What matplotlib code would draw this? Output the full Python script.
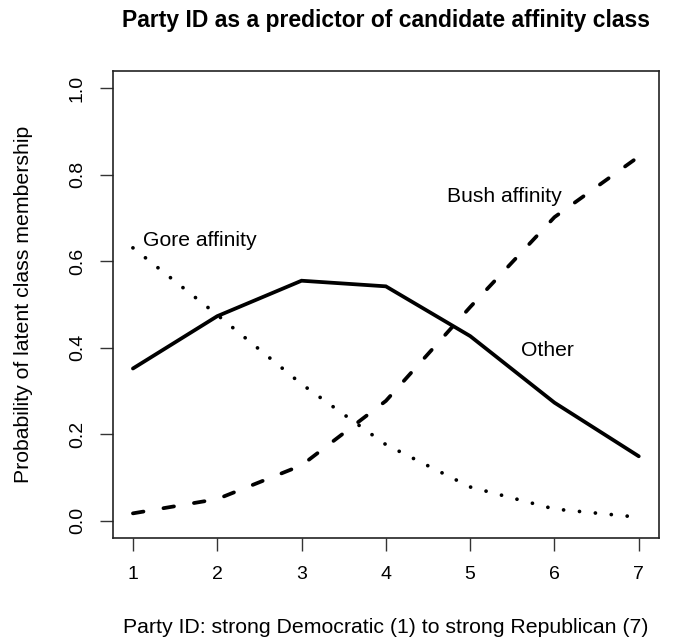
import matplotlib
matplotlib.use("Agg")
import matplotlib.pyplot as plt

plt.rcParams["font.family"] = ["Liberation Sans", "DejaVu Sans"]

# Party ID scale and class membership probabilities
party_id = [1, 2, 3, 4, 5, 6, 7]
other = [0.352, 0.473, 0.555, 0.542, 0.427, 0.273, 0.149]
bush = [0.017, 0.050, 0.128, 0.277, 0.494, 0.702, 0.842]
gore = [0.631, 0.476, 0.316, 0.176, 0.078, 0.027, 0.008]

x_ticks = [1, 2, 3, 4, 5, 6, 7]
y_ticks = [0.0, 0.2, 0.4, 0.6, 0.8, 1.0]
y_tick_labels = ["0.0", "0.2", "0.4", "0.6", "0.8", "1.0"]

W, H = 676, 644
fig = plt.figure(figsize=(W / 100, H / 100), dpi=100)
ax = fig.add_axes([112.7 / W, 1 - 538 / H, (659 - 112.7) / W, (538 - 71) / H])

lw = 2.7
ax.plot(party_id, other, color="black", lw=lw, solid_capstyle="round",
        solid_joinstyle="miter")
ax.plot(party_id, bush, color="black", lw=lw, linestyle=(0, (2.85, 5.4)),
        dash_capstyle="round")
ax.plot(party_id, gore, color="black", lw=lw, linestyle=(0, (0.01, 4.25)),
        dash_capstyle="round")

fs_txt = 15.2
ax.text(1.115, 0.636, "Gore affinity", fontsize=fs_txt, ha="left", va="baseline")
ax.text(4.72, 0.738, "Bush affinity", fontsize=fs_txt, ha="left", va="baseline")
ax.text(5.60, 0.382, "Other", fontsize=fs_txt, ha="left", va="baseline")

ax.set_xlim(0.76, 7.24)
ax.set_ylim(-0.04, 1.04)
ax.set_xticks(x_ticks)
ax.set_yticks(y_ticks)
ax.set_yticklabels(y_tick_labels)
for lab in ax.get_yticklabels():
    lab.set_rotation(90)
    lab.set_va("center")
    lab.set_ha("right")

ax.tick_params(axis="both", direction="out", length=9.4, width=1.0,
               labelsize=14, color="#333333")
ax.tick_params(axis="x", pad=11)
ax.tick_params(axis="y", pad=10)
for sp in ax.spines.values():
    sp.set_linewidth(1.2)
    sp.set_color("#222222")

fig.text(385.9 / W, 1 - 27.3 / H, "Party ID as a predictor of candidate affinity class",
         fontsize=16.5, fontweight="bold", ha="center", va="baseline")
fig.text(385.9 / W, 1 - 633 / H,
         "Party ID: strong Democratic (1) to strong Republican (7)",
         fontsize=15.3, ha="center", va="baseline")
fig.text(24 / W, 1 - 304.5 / H, "Probability of latent class membership",
         fontsize=15.3, rotation=90, ha="center", va="center")

fig.savefig("out.png", dpi=100)
